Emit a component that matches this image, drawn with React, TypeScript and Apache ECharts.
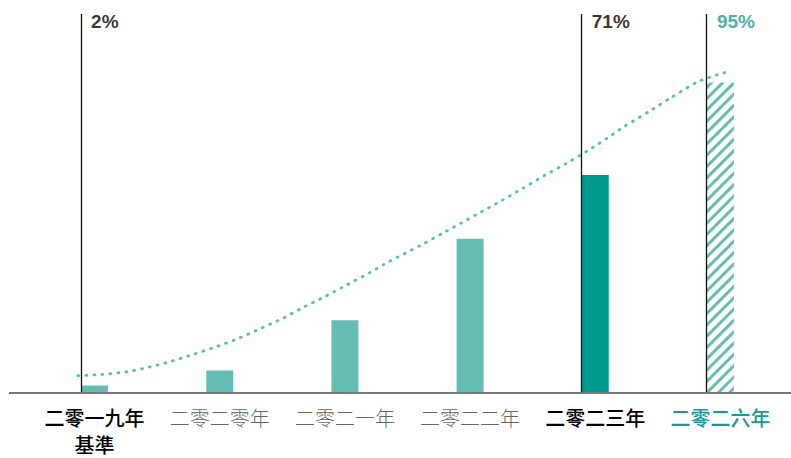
import React, { useEffect, useRef } from "react";
import * as echarts from "echarts";

// ---- data ----
const CATEGORIES = ["二零一九年\n基準", "二零二零年", "二零二一年", "二零二二年", "二零二三年", "二零二六年"];
const BAR_VALUES = [2, 6.6, 22, 47, 66.6, 95];
const TOP_LABELS = ["2%", "", "", "", "71%", "95%"];
const MARKED = [0, 4, 5];
// trend curve (x in category units, y in same units as bars)
const CURVE_X = [0.367, 0.561, 0.756, 0.929, 1.118, 1.288, 1.470, 1.648, 1.827, 2.000, 2.157, 2.339, 2.519, 2.700, 2.852, 3.100, 3.278, 3.433, 3.593, 3.749, 3.915, 4.093, 4.269, 4.441, 4.612, 4.730, 4.929, 5.105, 5.313, 5.425, 5.529, 5.588];
const CURVE_Y = [4.99, 5.42, 6.21, 7.56, 9.49, 11.54, 13.87, 16.44, 19.50, 22.56, 25.78, 29.26, 32.93, 36.67, 40.04, 44.90, 48.67, 51.93, 55.35, 58.69, 62.35, 66.42, 70.13, 74.09, 78.33, 81.42, 86.06, 90.30, 95.10, 96.73, 97.95, 98.38];

// ---- style ----
const LIGHT = "#66bdb3";
const DARK = "#009a90";
const TEAL_TEXT = "#1a9a90";
const CJK_MED = "'Noto Sans CJK TC Medium', 'Noto Sans CJK TC', 'Noto Sans CJK SC', sans-serif";
const CJK_LIGHT = "'Noto Sans CJK TC Light', 'Noto Sans CJK TC DemiLight', 'Noto Sans CJK TC', 'Noto Sans CJK SC', sans-serif";
const GRID_LEFT = 32;
const GRID_WIDTH = 751;
const GRID_TOP = 14;
const GRID_BOTTOM = 65;
const BAR_W = 27;
const Y_MAX = 116;

export default function App() {
  const ref = useRef<HTMLDivElement>(null);

  useEffect(() => {
    if (!ref.current) return;
    const chart = echarts.init(ref.current, undefined, { renderer: "svg" });
    const band = GRID_WIDTH / CATEGORIES.length;
    const halfBarUnits = BAR_W / 2 / band;
    const edgeX = (i: number) => i + 0.5 - halfBarUnits;

    const catStyles = [
      { color: "#000", fontWeight: "normal", fontFamily: CJK_MED },
      { color: "#666", fontWeight: "normal", fontFamily: CJK_LIGHT },
      { color: "#666", fontWeight: "normal", fontFamily: CJK_LIGHT },
      { color: "#666", fontWeight: "normal", fontFamily: CJK_LIGHT },
      { color: "#000", fontWeight: "normal", fontFamily: CJK_MED },
      { color: TEAL_TEXT, fontWeight: "normal", fontFamily: CJK_MED },
    ];

    const barData = BAR_VALUES.map((v, i) => {
      if (i === 5) {
        return {
          value: v,
          itemStyle: {
            color: "#ffffff",
            decal: {
              symbol: "rect",
              symbolSize: 1,
              color: LIGHT,
              dashArrayX: [1, 0],
              dashArrayY: [3, 5],
              rotation: -Math.PI / 4,
            },
          },
        };
      }
      return { value: v, itemStyle: { color: i === 4 ? DARK : LIGHT } };
    });

    chart.setOption({
      animation: false,
      backgroundColor: "#ffffff",
      grid: { left: GRID_LEFT, width: GRID_WIDTH, top: GRID_TOP, bottom: GRID_BOTTOM },
      xAxis: [
        {
          type: "category",
          data: CATEGORIES.map((c, i) => ({
            value: c,
            textStyle: { ...catStyles[i], fontSize: 20, lineHeight: 27 },
          })),
          axisLine: { show: false },
          axisTick: { show: false },
          axisLabel: { margin: 12, interval: 0 },
        },
        { type: "value", min: 0, max: CATEGORIES.length, show: false },
      ],
      yAxis: { type: "value", min: 0, max: Y_MAX, show: false },
      graphic: [
        {
          type: "line",
          shape: { x1: 9, y1: 393, x2: 791, y2: 393 },
          style: { stroke: "#4a4a4a", lineWidth: 1.6 },
          z: 10,
        },
      ],
      series: [
        {
          type: "bar",
          data: barData,
          barWidth: BAR_W,
          z: 2,
        },
        {
          type: "line",
          xAxisIndex: 1,
          data: CURVE_X.map((x, i) => [x, CURVE_Y[i]]),
          smooth: 0.25,
          symbol: "none",
          lineStyle: { color: "#5dbdb0", width: 2.8, type: [1, 7], cap: "round" },
          z: 3,
          markLine: {
            silent: true,
            symbol: "none",
            label: { show: false },
            lineStyle: { color: "#111", width: 1.3, type: "solid" },
            data: MARKED.map((i) => ({ xAxis: edgeX(i) })),
            z: 5,
          },
        },
        {
          type: "scatter",
          xAxisIndex: 1,
          symbolSize: 0,
          data: MARKED.map((i) => ({
            value: [edgeX(i), Y_MAX],
            label: { color: i === 5 ? TEAL_TEXT : "#000000" },
          })),
          label: {
            show: true,
            color: "#000000",
            position: [10, -2],
            align: "left",
            verticalAlign: "top",
            fontFamily: "'Liberation Sans', Arial, sans-serif",
            fontWeight: "bold",
            fontSize: 19,
            formatter: (p: any) => TOP_LABELS[MARKED[p.dataIndex]],
          },
          itemStyle: { color: "#000" },
          z: 6,
        },
      ],
    });
    return () => chart.dispose();
  }, []);

  return (
    <div
      ref={ref}
      style={{ position: "fixed", left: 0, top: 0, width: 791, height: 458, background: "#fff" }}
    />
  );
}
